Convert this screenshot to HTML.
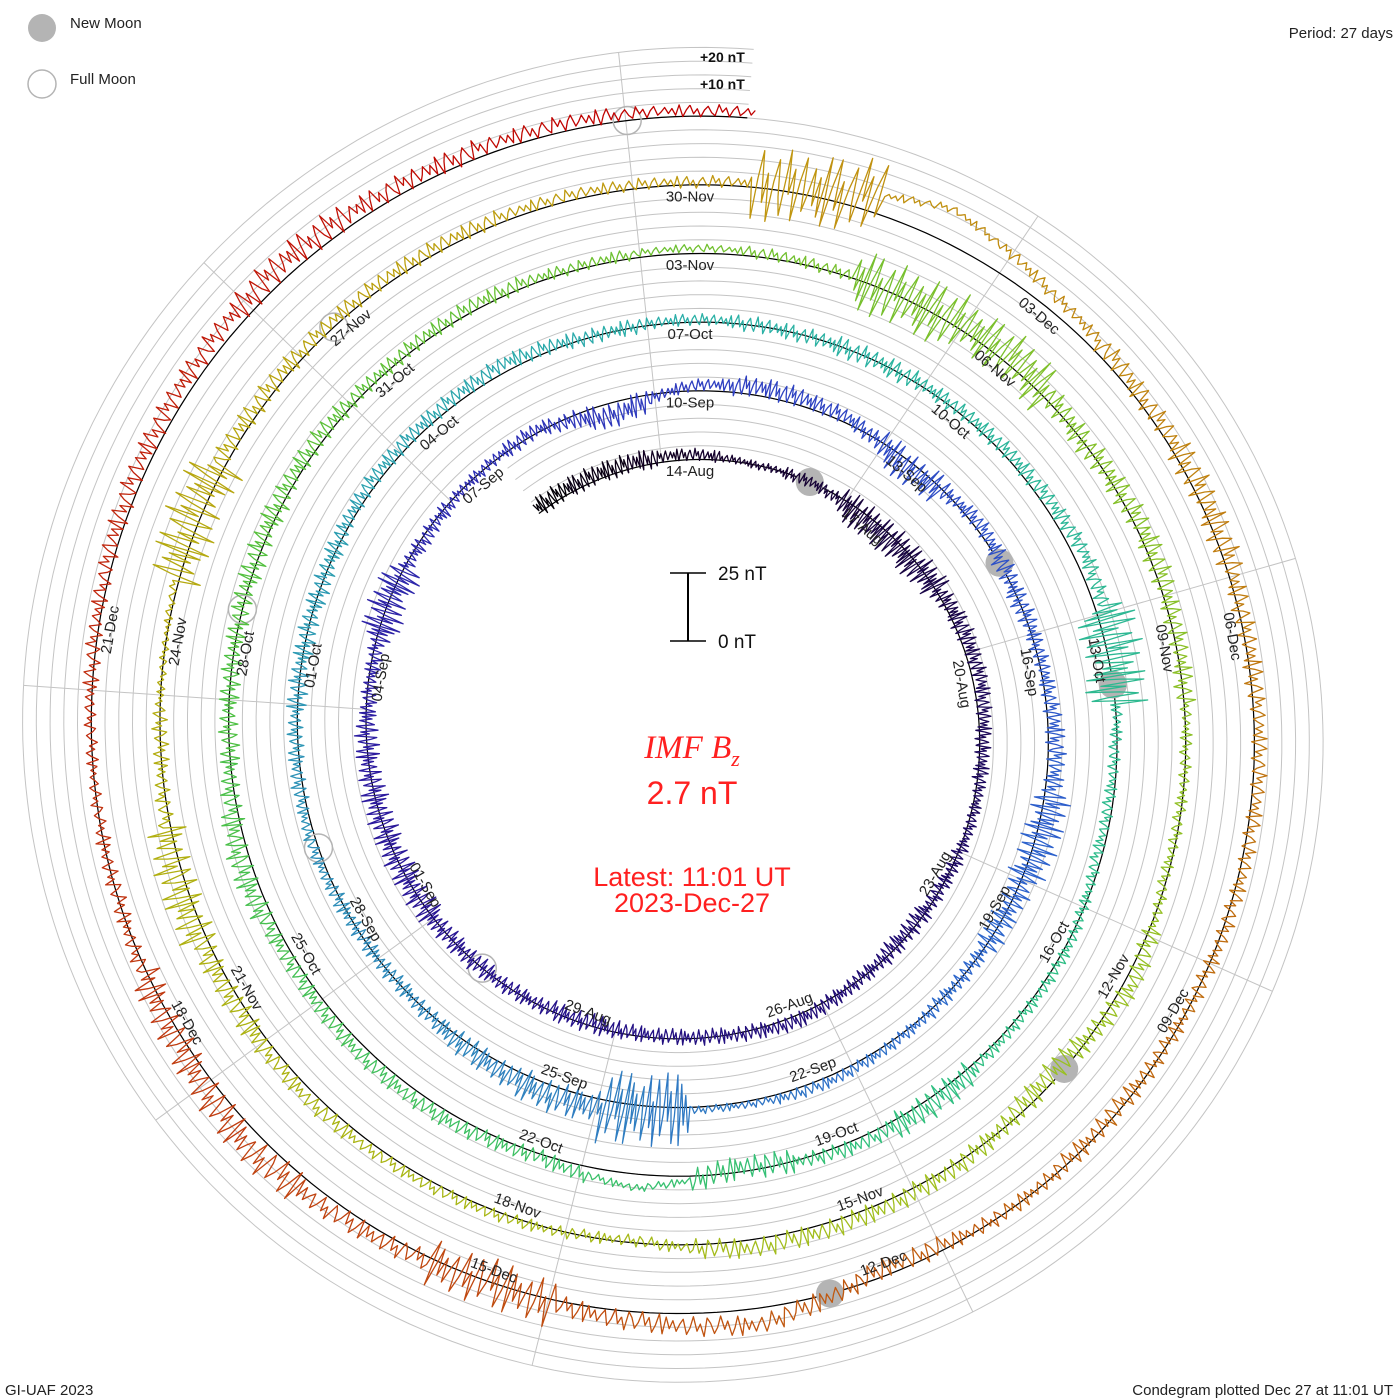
<!DOCTYPE html>
<html><head><meta charset="utf-8"><title>IMF Bz Condegram</title>
<style>
html,body{margin:0;padding:0;background:#fff;}
svg{display:block;font-family:"Liberation Sans",sans-serif;}
</style></head>
<body>
<svg id="chart" width="1400" height="1400" viewBox="0 0 1400 1400" xmlns="http://www.w3.org/2000/svg">
  <rect x="0" y="0" width="1400" height="1400" fill="#fff"/>
  <g id="grid"></g>
  <g id="spokes"></g>
  <g id="baseline"></g>
  <g id="moons"></g>
  <g id="series"></g>
  <g id="labels"></g>

  <g>
    <circle cx="42" cy="28" r="14" fill="#b4b4b4"/>
    <text x="70" y="28" font-size="15" fill="#222">New Moon</text>
    <circle cx="42" cy="84" r="14" fill="none" stroke="#b4b4b4" stroke-width="1.5"/>
    <text x="70" y="84" font-size="15" fill="#222">Full Moon</text>
  </g>
  <text x="1393" y="38" font-size="15" fill="#222" text-anchor="end">Period: 27 days</text>
  <text x="700" y="62" font-size="14" font-weight="bold" fill="#111">+20 nT</text>
  <text x="700" y="89" font-size="14" font-weight="bold" fill="#111">+10 nT</text>

  <g>
    <line x1="688" y1="573" x2="688" y2="641" stroke="#000" stroke-width="2"/>
    <line x1="670" y1="573" x2="706" y2="573" stroke="#000" stroke-width="1.5"/>
    <line x1="670" y1="641" x2="706" y2="641" stroke="#000" stroke-width="1.5"/>
    <text x="718" y="580" font-size="19" fill="#111">25 nT</text>
    <text x="718" y="648" font-size="19" fill="#111">0 nT</text>
  </g>

  <text x="692" y="758" font-size="33" fill="#ff2020" text-anchor="middle" font-family="Liberation Serif, serif" font-style="italic">IMF B<tspan font-size="22" dy="8">z</tspan></text>
  <text x="692" y="804" font-size="32" fill="#ff2020" text-anchor="middle">2.7 nT</text>
  <text x="692" y="886" font-size="27" fill="#ff2020" text-anchor="middle">Latest: 11:01 UT</text>
  <text x="692" y="912" font-size="27" fill="#ff2020" text-anchor="middle">2023-Dec-27</text>

  <text x="5" y="1395" font-size="15" fill="#222">GI-UAF 2023</text>
  <text x="1393" y="1395" font-size="15" fill="#222" text-anchor="end">Condegram plotted Dec 27 at 11:01 UT</text>
</svg>
<script>
// ---- data (day index t = -3 .. 135, t=0 is 14-Aug-2023) ----
const dayStart = -3;
const bzMean = [2,2,2, 2,0,0,-2,-1,2,3,1,1,0,-1,0,2,0,-1,-1,0,0,0,0,0,-1,0,-1,0,1,-5,
 2,3,2,-3,2,0,1,3,2,0,0,1,2,1,1,4,2,0,0,2,1,0,0,2,2,3,0,
 1,0,0,1,2,4,2,-1,-2,1,1,2,2,-2,5,1,3,3,2,4,0,0,1,2,1,2,1,
 2,1,0,3,0,2,1,0,-1,3,-3,1,2,3,-1,1,2,3,2,3,0,0,3,2,2,2,2,
 1,2,12,5,2,2,1,2,1,0,-1,0,-3,6,3,0,3,6,2,0,0,1,3,4,5,3,3,2];
const bzSpread = [4,5,5, 3,2,3,8,8,5,4,4,3,4,5,4,4,4,4,5,4,5,7,7,6,4,10,4,3,4,6,
 3,5,4,8,4,5,4,5,10,7,4,3,3,2,18,8,6,4,4,3,4,5,5,4,4,4,4,
 3,4,5,4,4,4,15,3,3,3,3,7,4,6,2,4,4,4,4,6,5,5,6,5,4,4,3,
 2,3,15,12,6,6,5,3,3,5,6,5,5,5,3,3,3,4,6,10,4,2,14,5,4,4,3,
 3,18,2,3,5,7,5,4,4,4,5,4,5,5,5,12,5,8,8,4,3,4,5,5,7,5,4,3];
const dateLabels = ["14-Aug","17-Aug","20-Aug","23-Aug","26-Aug","29-Aug","01-Sep","04-Sep","07-Sep","10-Sep","13-Sep","16-Sep","19-Sep","22-Sep","25-Sep","28-Sep","01-Oct","04-Oct","07-Oct","10-Oct","13-Oct","16-Oct","19-Oct","22-Oct","25-Oct","28-Oct","31-Oct","03-Nov","06-Nov","09-Nov","12-Nov","15-Nov","18-Nov","21-Nov","24-Nov","27-Nov","30-Nov","03-Dec","06-Dec","09-Dec","12-Dec","15-Dec","18-Dec","21-Dec"];
const newMoonDays = [1.92, 31.6, 60.27, 90.9, 120.45];
const fullMoonDays = [16.6, 45.95, 75.4, 104.9, 134.56];
const gridOffsetsNT = [0,5,10,15,20,25];
const tStart = -2.6, tEnd = 135.46;

// ---- geometry ----
const NS = "http://www.w3.org/2000/svg";
const cx = 690, cy = 732, R0 = 272.3, TURN = 68.7, PERIOD = 27;
const K = TURN / PERIOD, PX = TURN / 25;
function pos(t, v) {
  const th = t * 360 / PERIOD * Math.PI / 180;
  const r = R0 + K * t + v * PX;
  return [cx + r * Math.sin(th), cy - r * Math.cos(th)];
}
function mk(tag, attrs, parent) {
  const e = document.createElementNS(NS, tag);
  for (const k in attrs) e.setAttribute(k, attrs[k]);
  parent.appendChild(e);
  return e;
}
const stops = [[-3,[0,0,0]],[0,[20,0,40]],[10,[30,10,110]],[20,[44,26,160]],[27,[47,62,192]],[36,[45,100,205]],[42,[48,128,192]],[54,[43,176,168]],[65,[48,192,128]],[75,[80,192,64]],[81,[112,192,48]],[92,[160,192,32]],[100,[176,176,16]],[108,[192,152,16]],[116,[192,112,16]],[122,[192,80,16]],[128,[192,48,16]],[135,[192,0,0]]];
function colorAt(t) {
  for (let i = 0; i < stops.length - 1; i++) {
    const a = stops[i], b = stops[i+1];
    if (t <= b[0]) {
      const f = Math.max(0, (t - a[0]) / (b[0] - a[0]));
      const c = a[1].map((x, j) => Math.round(x + (b[1][j] - x) * f));
      return "rgb(" + c.join(",") + ")";
    }
  }
  return "rgb(192,0,0)";
}

// grid spirals
const gGrid = document.getElementById("grid");
gridOffsetsNT.forEach(off => {
  let d = "";
  for (let t = tStart; t <= tEnd + 1e-6; t += 0.1) {
    const p = pos(t, off);
    d += (d ? "L" : "M") + p[0].toFixed(1) + "," + p[1].toFixed(1);
  }
  const el = mk("path", {d: d, fill: "none", stroke: "#c4c4c4", "stroke-width": 1}, gGrid);
  
  
});

// spokes every 40 degrees starting at -6
const gSp = document.getElementById("spokes");
for (let k = 0; k < 9; k++) {
  let th = (-6 + 40 * k + 360) % 360;
  const base = th / 360 * PERIOD;
  let tMin = base; while (tMin - PERIOD >= tStart) tMin -= PERIOD;
  let tMax = base; while (tMax + PERIOD <= tEnd) tMax += PERIOD;
  const a = pos(tMin, 0), b = pos(tMax, 25);
  const el = mk("line", {x1: a[0], y1: a[1], x2: b[0], y2: b[1], stroke: "#c4c4c4", "stroke-width": 1}, gSp);
  
  
}

// baseline
(function(){
  let d = "";
  for (let t = tStart; t <= tEnd + 1e-6; t += 0.1) {
    const p = pos(t, 0);
    d += (d ? "L" : "M") + p[0].toFixed(1) + "," + p[1].toFixed(1);
  }
  const el = mk("path", {d: d, fill: "none", stroke: "#000", "stroke-width": 1.2}, document.getElementById("baseline"));
  
  
})();

// moons
const gM = document.getElementById("moons");
newMoonDays.forEach(t => {
  const p = pos(t, 0);
  const el = mk("circle", {cx: p[0], cy: p[1], r: 14, fill: "#b4b4b4"}, gM);
  
  
});
fullMoonDays.forEach(t => {
  const p = pos(t, 0);
  const el = mk("circle", {cx: p[0], cy: p[1], r: 14, fill: "none", stroke: "#b4b4b4", "stroke-width": 1.5}, gM);
  
  
});

// series
const pattern = [0.9,-0.5,0.3,-1,0.1,0.7,-0.3,-0.8,1,-0.2,0.5,-0.9,0.2,0.85,-0.6,-0.1,0.6,-0.4,0.4,-0.7,0.95,-0.95,0.15];
const SUB = 40, AMP = 0.75;
function meanAt(t) {
  const x = t - dayStart, i = Math.floor(x), f = x - i;
  const a = bzMean[Math.min(i, bzMean.length-1)], b = bzMean[Math.min(i+1, bzMean.length-1)];
  return a + (b - a) * f;
}
function spreadAt(t) {
  const x = t - dayStart, i = Math.round(x);
  return bzSpread[Math.max(0, Math.min(i, bzSpread.length-1))];
}
const gS = document.getElementById("series");
for (let day = Math.floor(tStart); day <= Math.ceil(tEnd); day++) {
  let d = "";
  for (let s = 0; s <= SUB; s++) {
    let t = day + s / SUB;
    if (t < tStart || t > tEnd) continue;
    const idx = Math.round((t - dayStart) * SUB);
    const v = meanAt(t) + AMP * spreadAt(t) * pattern[idx % pattern.length];
    const p = pos(t, v);
    d += (d ? "L" : "M") + p[0].toFixed(1) + "," + p[1].toFixed(1);
  }
  if (!d) continue;
  const el = mk("path", {d: d, fill: "none", stroke: colorAt(day + 0.5), "stroke-width": 1.3, "stroke-linejoin": "round"}, gS);
  
  
}

// date labels
const gL = document.getElementById("labels");
dateLabels.forEach((lab, i) => {
  const t = i * 3;
  const th = (t * 360 / PERIOD) % 360;
  const r = R0 + K * t - 12;
  const rad = th * Math.PI / 180;
  const x = cx + r * Math.sin(rad), y = cy - r * Math.cos(rad);
  const rot = (th > 90 && th < 270) ? th - 180 : th;
  const el = mk("text", {x: 0, y: 0, "font-size": 15, fill: "#222", "text-anchor": "middle", "dominant-baseline": "central",
    transform: "translate(" + x.toFixed(1) + "," + y.toFixed(1) + ") rotate(" + rot.toFixed(1) + ")"}, gL);
  el.textContent = lab;
  
  
});
</script>
</body></html>
